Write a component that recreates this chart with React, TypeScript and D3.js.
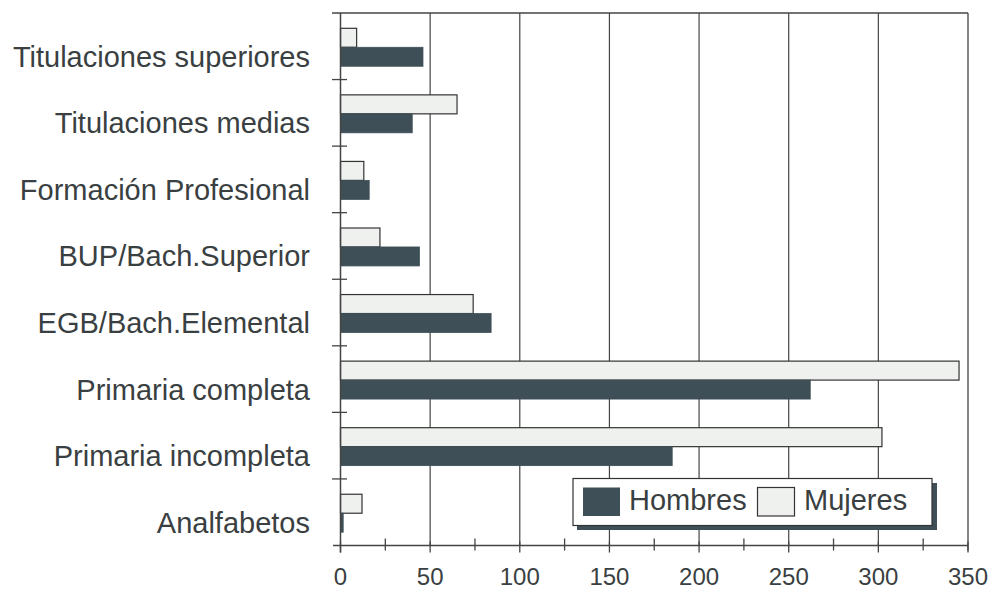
import React from "react";
import * as d3 from "d3";

const categories = [
  "Titulaciones superiores",
  "Titulaciones medias",
  "Formación Profesional",
  "BUP/Bach.Superior",
  "EGB/Bach.Elemental",
  "Primaria completa",
  "Primaria incompleta",
  "Analfabetos",
];
const hombres = [46, 40, 16, 44, 84, 262, 185, 1.5];
const mujeres = [9, 65, 13, 22, 74, 345, 302, 12];
const seriesNames = ["Mujeres", "Hombres"];
const majorTicks = [0, 50, 100, 150, 200, 250, 300, 350];
const minorTicks = [25, 75, 125, 175, 225, 275, 325];

const W = 990;
const H = 591;
const DARK = "#3e4f57";
const LIGHT = "#eef1ee";
const TEXT = "#3a3f42";
const LINE = "#444";
const FONT = "'Liberation Sans', Arial, sans-serif";

export default function App() {
  const left = 340.5, right = 968, top = 13, bottom = 545.5;
  const x = d3.scaleLinear().domain([0, 350]).range([left, right]);
  const y = d3.scaleBand().domain(categories).range([top, bottom]).padding(0);
  const bw = y.bandwidth();
  const sub = d3.scaleBand().domain(seriesNames).range([bw * 0.23, bw * 0.8]).padding(0);
  const boundaries = d3.range(categories.length + 1).map((i) => top + i * bw);

  return (
    <svg width={W} height={H} style={{ position: "absolute", left: 0, top: 0, background: "#fff" }} fontFamily={FONT}>
      <rect x={0} y={0} width={W} height={H} fill="#fff" />
      {majorTicks.filter((t) => t > 0 && t < 350).map((t) => (
        <line key={"g" + t} x1={x(t)} x2={x(t)} y1={top} y2={bottom} stroke={LINE} strokeWidth={1.2} />
      ))}
      <line x1={332} x2={right} y1={top} y2={top} stroke={LINE} strokeWidth={1.3} />
      <line x1={right} x2={right} y1={top} y2={bottom + 5} stroke={LINE} strokeWidth={1.3} />
      {categories.map((c, i) => (
        <g key={c}>
          <rect x={x(0)} y={(y(c) as number) + (sub("Mujeres") as number)} width={x(mujeres[i]) - x(0)} height={sub.bandwidth()}
            fill={LIGHT} stroke="#333" strokeWidth={1.2} />
          <rect x={x(0)} y={(y(c) as number) + (sub("Hombres") as number)} width={x(hombres[i]) - x(0)} height={sub.bandwidth()}
            fill={DARK} stroke={DARK} strokeWidth={0.8} />
        </g>
      ))}
      <line x1={x(0)} x2={x(0)} y1={top} y2={bottom + 7} stroke={LINE} strokeWidth={1.5} />
      <line x1={333} x2={right} y1={bottom} y2={bottom} stroke={LINE} strokeWidth={1.5} />
      {boundaries.slice(1, -1).map((b, i) => (
        <line key={"yt" + i} x1={332} x2={347} y1={b} y2={b} stroke={LINE} strokeWidth={1.3} />
      ))}
      {majorTicks.map((t) => (
        <line key={"mt" + t} x1={x(t)} x2={x(t)} y1={bottom - 4} y2={bottom + 7} stroke={LINE} strokeWidth={1.3} />
      ))}
      {minorTicks.map((t) => (
        <line key={"nt" + t} x1={x(t)} x2={x(t)} y1={bottom - 7} y2={bottom + 5} stroke={LINE} strokeWidth={1.3} />
      ))}
      {majorTicks.map((t) => (
        <text key={"tl" + t} x={x(t)} y={585} textAnchor="middle" fontSize={24} fill={TEXT}>{t}</text>
      ))}
      {categories.map((c) => (
        <text key={"cl" + c} x={310} y={(y(c) as number) + bw * 0.807} textAnchor="end" fontSize={29} fill={TEXT}>{c}</text>
      ))}
      <g>
        <rect x={577} y={483} width={360} height={47} fill={DARK} />
        <rect x={573} y={478.5} width={359} height={47} fill="#fff" stroke="#333" strokeWidth={1.2} />
        <rect x={583} y={487.5} width={37} height={28.5} fill={DARK} />
        <text x={629} y={510} fontSize={29} fill={TEXT}>Hombres</text>
        <rect x={757.5} y={487.5} width={37} height={28.5} fill={LIGHT} stroke="#333" strokeWidth={1.2} />
        <text x={804} y={510} fontSize={29} fill={TEXT}>Mujeres</text>
      </g>
    </svg>
  );
}
